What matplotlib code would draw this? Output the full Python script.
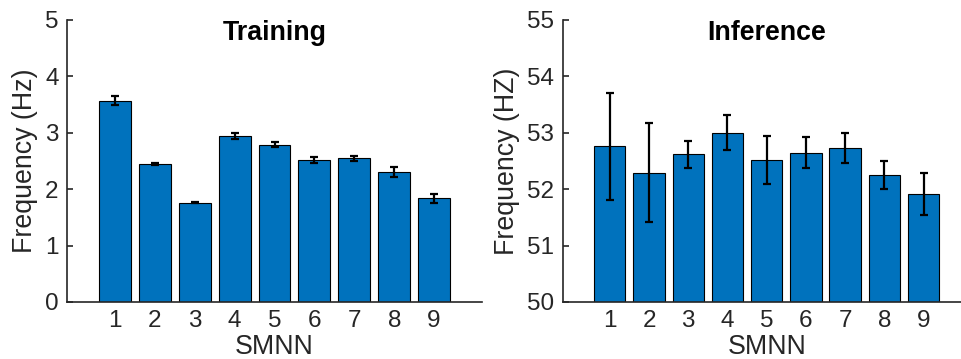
import matplotlib
matplotlib.use("Agg")
import matplotlib.pyplot as plt
import numpy as np

smnn = [1, 2, 3, 4, 5, 6, 7, 8, 9]

train_freq = [3.57, 2.45, 1.76, 2.94, 2.79, 2.52, 2.55, 2.30, 1.84]
train_err = [0.08, 0.02, 0.01, 0.05, 0.045, 0.05, 0.045, 0.09, 0.08]

infer_freq = [52.76, 52.29, 52.62, 53.00, 52.52, 52.65, 52.73, 52.25, 51.91]
infer_err = [0.95, 0.88, 0.24, 0.31, 0.43, 0.27, 0.27, 0.25, 0.375]

BLUE = "#0072BD"
DARK = "#262626"

plt.rcParams["font.family"] = ["Liberation Sans", "DejaVu Sans"]
plt.rcParams["text.color"] = DARK

fig = plt.figure(figsize=(9.61, 3.59), dpi=100)
ax1 = fig.add_axes([67 / 961, 57 / 359, 415 / 961, 282 / 359])
ax2 = fig.add_axes([562.7 / 961, 57 / 359, 408 / 961, 282 / 359])


def draw(ax, vals, errs, base, top, title, ylabel, label_x):
    x = np.array(smnn)
    heights = np.array(vals) - base
    ax.bar(x, heights, bottom=base, width=0.8, color=BLUE,
           edgecolor="black", linewidth=0.8, zorder=2)
    ax.errorbar(x, vals, yerr=errs, fmt="none", ecolor="black",
                elinewidth=1.6, capsize=2.9, capthick=1.6, zorder=3)
    ax.set_xlim(-0.2, 10.2)
    ax.set_ylim(base, top)
    ax.set_yticks(np.arange(base, top + 1))
    ax.set_xticks(x)
    for s in ["top", "right"]:
        ax.spines[s].set_visible(False)
    for s in ["left", "bottom"]:
        ax.spines[s].set_color(DARK)
        ax.spines[s].set_linewidth(1.2)
    ax.tick_params(axis="y", direction="in", length=4, width=1.2,
                   colors=DARK, labelsize=17.5, pad=6)
    ax.tick_params(axis="x", direction="in", length=0,
                   colors=DARK, labelsize=17.5, pad=6)
    ax.set_xlabel("SMNN", fontsize=19.3, color=DARK)
    ax.xaxis.set_label_coords(0.5, -0.115)
    ax.set_ylabel(ylabel, fontsize=19.3, color=DARK)
    ax.yaxis.set_label_coords(label_x, 0.5)
    ax.yaxis.label.set_va("center")
    ax.text(0.5, 0.929, title, transform=ax.transAxes, ha="center",
            va="baseline", fontsize=19.3, fontweight="bold", color="black")


draw(ax1, train_freq, train_err, 0, 5, "Training", "Frequency (Hz)", -0.101)
draw(ax2, infer_freq, infer_err, 50, 55, "Inference", "Frequency (HZ)", -0.137)

fig.savefig("out.png", dpi=100)
